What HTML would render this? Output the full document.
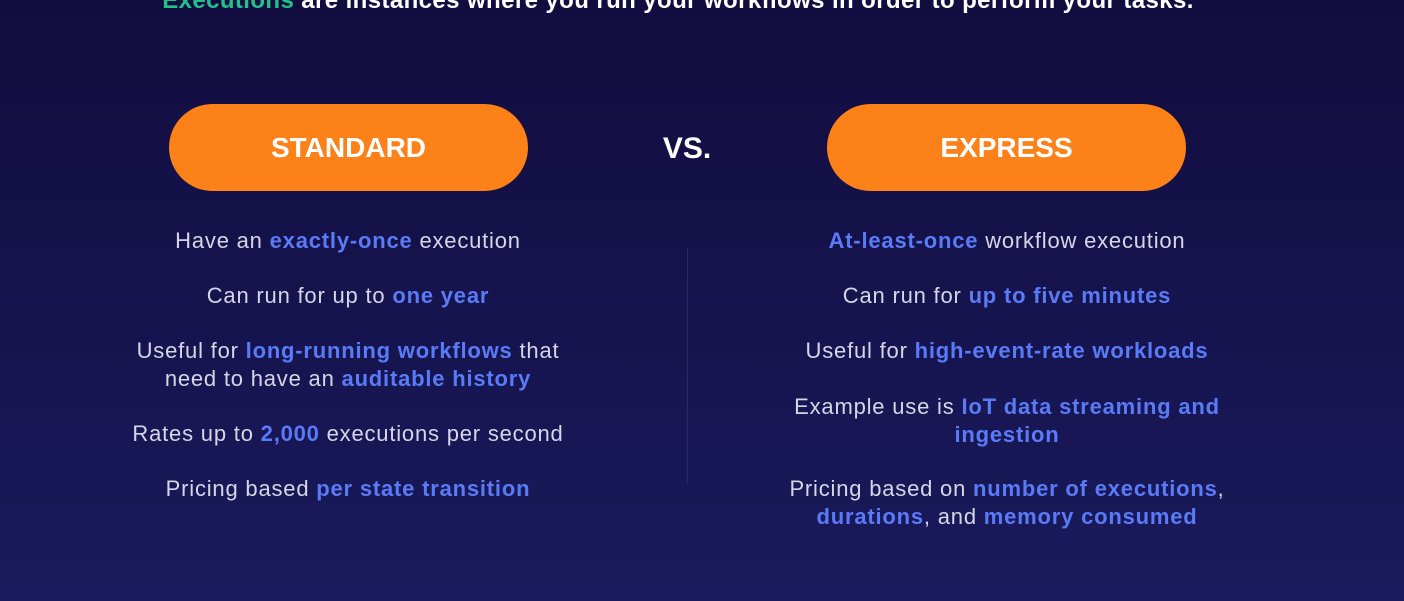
<!DOCTYPE html><html><head><style>
body{margin:0;width:1404px;height:601px;overflow:hidden;background:linear-gradient(#120d3f,#1a1a5c);font-family:"Liberation Sans",sans-serif;position:relative}
.h{position:absolute;top:-13px;left:0;width:1356px;text-align:center;color:#fff;font-weight:bold;font-size:24px;line-height:28px;letter-spacing:0.4px}
.g{color:#22c08a}
.pill{position:absolute;top:104px;width:359px;height:87px;border-radius:44px;background:#fb8118;color:#fff;font-weight:bold;font-size:28px;line-height:87px;text-align:center}
.vs{position:absolute;left:640px;width:94px;top:132px;text-align:center;color:#fff;font-weight:bold;font-size:30px}
.t{position:absolute;width:600px;text-align:center;color:#d6d6e6;font-size:22px;line-height:28px;letter-spacing:0.8px}
b{color:#5a7bf7}
.div{position:absolute;left:687px;top:248px;width:1px;height:235px;background:#2a2a66}
</style></head><body>
<div class="h"><span class="g">Executions</span> are instances where you run your workflows in order to perform your tasks.</div>
<div class="pill" style="left:169px">STANDARD</div>
<div class="vs">VS.</div>
<div class="pill" style="left:827px">EXPRESS</div>
<div class="div"></div>
<div class="t" style="left:48px;top:227px">Have an <b>exactly-once</b> execution</div>
<div class="t" style="left:48px;top:282px">Can run for up to <b>one year</b></div>
<div class="t" style="left:48px;top:337px">Useful for <b>long-running workflows</b> that<br>need to have an <b>auditable history</b></div>
<div class="t" style="left:48px;top:420px">Rates up to <b>2,000</b> executions per second</div>
<div class="t" style="left:48px;top:475px">Pricing based <b>per state transition</b></div>
<div class="t" style="left:707px;top:227px"><b>At-least-once</b> workflow execution</div>
<div class="t" style="left:707px;top:282px">Can run for <b>up to five minutes</b></div>
<div class="t" style="left:707px;top:337px">Useful for <b>high-event-rate workloads</b></div>
<div class="t" style="left:707px;top:393px">Example use is <b>IoT data streaming and<br>ingestion</b></div>
<div class="t" style="left:707px;top:475px">Pricing based on <b>number of executions</b>,<br><b>durations</b>, and <b>memory consumed</b></div>
</body></html>
